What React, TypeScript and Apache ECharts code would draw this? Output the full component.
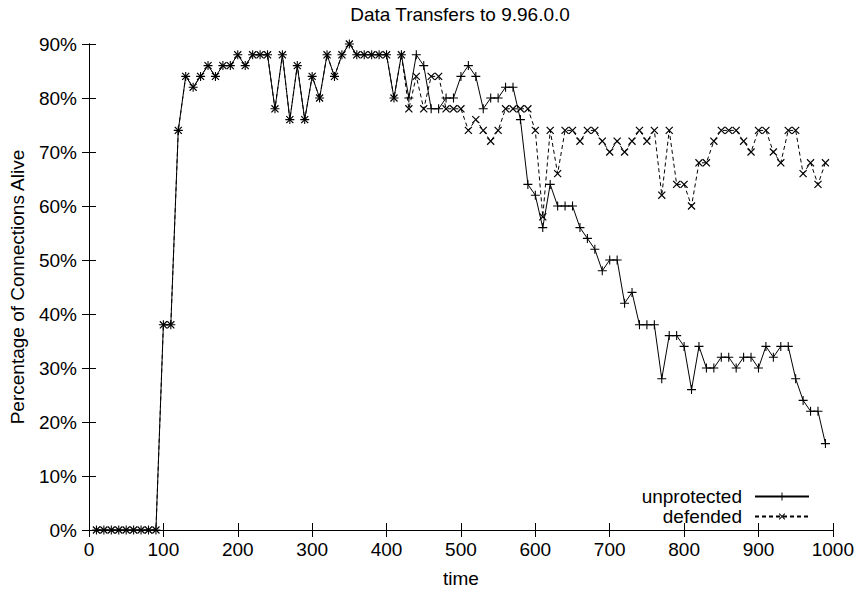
import React, { useEffect, useRef } from "react";
import * as echarts from "echarts";

const times = [
  10, 20, 30, 40, 50, 60, 70, 80, 90, 100,
  110, 120, 130, 140, 150, 160, 170, 180, 190, 200,
  210, 220, 230, 240, 250, 260, 270, 280, 290, 300,
  310, 320, 330, 340, 350, 360, 370, 380, 390, 400,
  410, 420, 430, 440, 450, 460, 470, 480, 490, 500,
  510, 520, 530, 540, 550, 560, 570, 580, 590, 600,
  610, 620, 630, 640, 650, 660, 670, 680, 690, 700,
  710, 720, 730, 740, 750, 760, 770, 780, 790, 800,
  810, 820, 830, 840, 850, 860, 870, 880, 890, 900,
  910, 920, 930, 940, 950, 960, 970, 980, 990,
];

const unprotected = [
  0, 0, 0, 0, 0, 0, 0, 0, 0, 38,
  38, 74, 84, 82, 84, 86, 84, 86, 86, 88,
  86, 88, 88, 88, 78, 88, 76, 86, 76, 84,
  80, 88, 84, 88, 90, 88, 88, 88, 88, 88,
  80, 88, 80, 88, 86, 78, 78, 80, 80, 84,
  86, 84, 78, 80, 80, 82, 82, 76, 64, 62,
  56, 64, 60, 60, 60, 56, 54, 52, 48, 50,
  50, 42, 44, 38, 38, 38, 28, 36, 36, 34,
  26, 34, 30, 30, 32, 32, 30, 32, 32, 30,
  34, 32, 34, 34, 28, 24, 22, 22, 16,
];

const defended = [
  0, 0, 0, 0, 0, 0, 0, 0, 0, 38,
  38, 74, 84, 82, 84, 86, 84, 86, 86, 88,
  86, 88, 88, 88, 78, 88, 76, 86, 76, 84,
  80, 88, 84, 88, 90, 88, 88, 88, 88, 88,
  80, 88, 78, 84, 78, 84, 84, 78, 78, 78,
  74, 76, 74, 72, 74, 78, 78, 78, 78, 74,
  58, 74, 66, 74, 74, 72, 74, 74, 72, 70,
  72, 70, 72, 74, 72, 74, 62, 74, 64, 64,
  60, 68, 68, 72, 74, 74, 74, 72, 70, 74,
  74, 70, 68, 74, 74, 66, 68, 64, 68,
];

const seriesNames = ["unprotected", "defended"];
const titleText = "Data Transfers to 9.96.0.0";
const xName = "time";
const yName = "Percentage of Connections Alive";

const FONT = "Liberation Sans, Arial, Helvetica, sans-serif";
const FS = 19;
const PLUS = "path://M4.4,0H5.6V10H4.4Z M0,4.4H10V5.6H0Z";

export default function App() {
  const ref = useRef<HTMLDivElement>(null);
  useEffect(() => {
    if (!ref.current) return;
    const chart = echarts.init(ref.current, null, { renderer: "svg" });
    const axisCommon = {
      axisLine: { show: true, lineStyle: { color: "#000", width: 1 } },
      axisTick: { show: true, inside: true, length: 7, lineStyle: { color: "#000" } },
      splitLine: { show: false },
    };
    chart.setOption({
      animation: false,
      backgroundColor: "#fff",
      textStyle: { fontFamily: FONT, color: "#000" },
      title: {
        text: titleText,
        left: 460,
        top: 5,
        padding: 0,
        textAlign: "center",
        textStyle: { fontFamily: FONT, fontSize: FS, fontWeight: "normal", color: "#000" },
      },
      grid: { left: 88, right: 24, top: 44, bottom: 59, containLabel: false },
      legend: {
        orient: "vertical",
        align: "right",
        right: 47,
        top: 487,
        padding: 0,
        itemWidth: 54,
        itemHeight: 10,
        itemGap: 1,
        textStyle: { fontFamily: FONT, fontSize: FS, color: "#000", padding: [0, 8, 0, 0] },
        data: seriesNames,
      },
      xAxis: [
        {
          type: "value",
          min: 0,
          max: 1000,
          interval: 100,
          name: xName,
          nameLocation: "middle",
          nameGap: 39,
          nameTextStyle: { fontFamily: FONT, fontSize: FS, color: "#000" },
          axisLabel: {
            fontFamily: FONT,
            fontSize: FS,
            color: "#000",
            margin: 10,
            formatter: (v: number) => String(v),
          },
          ...axisCommon,
        },
        {
          type: "value",
          position: "top",
          min: 0,
          max: 1000,
          interval: 100,
          axisLabel: { show: false },
          ...axisCommon,
        },
      ],
      yAxis: [
        {
          type: "value",
          min: 0,
          max: 90,
          interval: 10,
          name: yName,
          nameLocation: "middle",
          nameGap: 62,
          nameTextStyle: { fontFamily: FONT, fontSize: FS, color: "#000" },
          axisLabel: { fontFamily: FONT, fontSize: FS, color: "#000", formatter: "{value}%", margin: 12 },
          ...axisCommon,
        },
        {
          type: "value",
          position: "right",
          min: 0,
          max: 90,
          interval: 10,
          axisLabel: { show: false },
          ...axisCommon,
        },
      ],
      series: [
        {
          name: seriesNames[0],
          type: "line",
          xAxisIndex: 0,
          yAxisIndex: 0,
          data: times.map((t, i) => [t, unprotected[i]]),
          symbol: PLUS,
          symbolSize: 9,
          showAllSymbol: true,
          itemStyle: { color: "#000" },
          lineStyle: { color: "#000", width: 1 },
        },
        {
          name: seriesNames[1],
          type: "line",
          xAxisIndex: 0,
          yAxisIndex: 0,
          data: times.map((t, i) => [t, defended[i]]),
          symbol: PLUS,
          symbolSize: 10,
          symbolRotate: 45,
          showAllSymbol: true,
          itemStyle: { color: "#000" },
          lineStyle: { color: "#000", width: 1, type: [4, 3] },
        },
      ],
    });
    return () => chart.dispose();
  }, []);
  return (
    <div
      ref={ref}
      style={{ position: "absolute", left: 0, top: 0, width: 857, height: 593, background: "#fff" }}
    />
  );
}
